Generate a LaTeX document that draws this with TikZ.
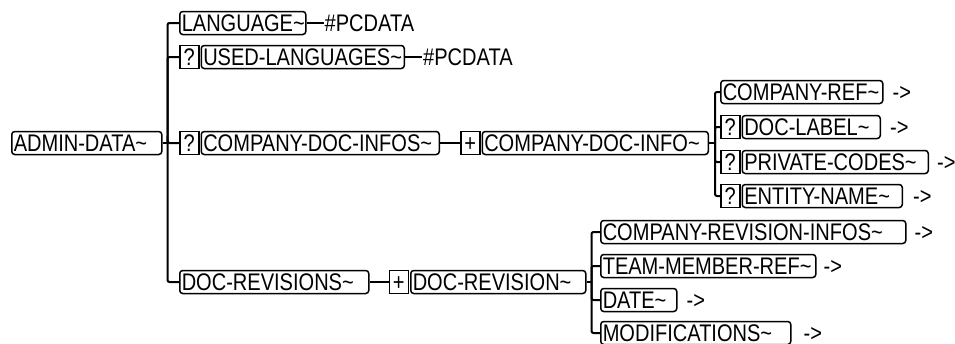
\documentclass[tikz,border=0pt]{standalone}
\usepackage{fontspec}
\setmainfont{Liberation Sans}[FakeStretch=0.835]
\usepackage{tikz}
\usetikzlibrary{positioning}
\exhyphenpenalty=10000
\tikzstyle{every node}=[font=\fontsize{24}{28}\selectfont]
\tikzstyle{elem}=[draw,rounded corners=3pt,line width=1.5pt,inner xsep=2pt,inner ysep=1pt,text height=18.5pt,text depth=2.5pt,align=left]
\tikzstyle{opt}=[draw,line width=1.5pt,inner xsep=0pt,inner ysep=1pt,text height=18.5pt,text depth=2.5pt,minimum width=19pt]
\tikzstyle{leaf}=[inner xsep=1pt,inner ysep=1pt,text height=18.5pt,text depth=2.5pt]
\tikzstyle{branch}=[line width=2pt,rounded corners=2pt]

\begin{document}
\begin{tikzpicture}[x=1pt,y=-1pt]
  \useasboundingbox (0,0) rectangle (955,343);
  % root
  \node(admin)[elem,text width=146pt,anchor=west] at (11,143){ADMIN-DATA\textasciitilde};
  \coordinate(t1) at ([xshift=5pt]admin.east);
  % first level
  \node(lang)[elem,text width=122pt,anchor=west] at (179,23){LANGUAGE\textasciitilde};
  \node(langpc)[leaf,right=17pt of lang]{\#PCDATA};
  \node(usedq)[opt,anchor=west] at (179,57){?};
  \node(used)[elem,text width=199pt,right=1pt of usedq]{USED-LANGUAGES\textasciitilde};
  \node(usedpc)[leaf,right=17pt of used]{\#PCDATA};
  \node(cdisq)[opt,anchor=west] at (179,143){?};
  \node(cdis)[elem,text width=234pt,right=1pt of cdisq]{COMPANY-DOC-INFOS\textasciitilde};
  \node(cdip)[opt,right=20pt of cdis]{+};
  \node(cdi)[elem,text width=222pt,right=1pt of cdip]{COMPANY-DOC-INFO\textasciitilde};
  \node(revs)[elem,text width=185pt,anchor=west] at (179,282){DOC-REVISIONS\textasciitilde};
  \node(revp)[opt,right=19pt of revs]{+};
  \node(rev)[elem,text width=171pt,right=1pt of revp]{DOC-REVISION\textasciitilde};
  \coordinate(t2) at ([xshift=6pt]cdi.east);
  \coordinate(t3) at ([xshift=5pt]rev.east);
  % COMPANY-DOC-INFO content
  \node(cref)[elem,text width=158pt,anchor=west] at (720,92){COMPANY-REF\textasciitilde};
  \node(crefr)[leaf,right=8pt of cref]{->};
  \node(labq)[opt,anchor=west] at (720,127){?};
  \node(lab)[elem,text width=134pt,right=1pt of labq]{DOC-LABEL\textasciitilde};
  \node(labr)[leaf,right=8pt of lab]{->};
  \node(pcq)[opt,anchor=west] at (720,162){?};
  \node(pc)[elem,text width=182pt,right=1pt of pcq]{PRIVATE-CODES\textasciitilde};
  \node(pcr)[leaf,right=7pt of pc]{->};
  \node(entq)[opt,anchor=west] at (720,196){?};
  \node(ent)[elem,text width=156pt,right=1pt of entq]{ENTITY-NAME\textasciitilde};
  \node(entr)[leaf,right=9pt of ent]{->};
  % DOC-REVISION content
  \node(cri)[elem,text width=301pt,anchor=west] at (600,232){COMPANY-REVISION-INFOS\textasciitilde};
  \node(crir)[leaf,right=7pt of cri]{->};
  \node(tm)[elem,text width=211pt,anchor=west] at (600,266){TEAM-MEMBER-REF\textasciitilde};
  \node(tmr)[leaf,right=6pt of tm]{->};
  \node(date)[elem,text width=72pt,anchor=west] at (600,300){DATE\textasciitilde};
  \node(dater)[leaf,right=8pt of date]{->};
  \node(mod)[elem,text width=186pt,anchor=west] at (600,333){MODIFICATIONS\textasciitilde};
  \node(modr)[leaf,right=11pt of mod]{->};
  % connectors
  \draw[branch] (admin.east) -- (t1);
  \draw[branch] (t1) |- (lang.west);
  \draw[branch] (t1) |- (usedq.west);
  \draw[branch] (t1) |- (cdisq.west);
  \draw[branch] (t1) |- (revs.west);
  \draw[branch] (lang) -- (langpc);
  \draw[branch] (used) -- (usedpc);
  \draw[branch] (cdis) -- (cdip);
  \draw[branch] (revs) -- (revp);
  \draw[branch] (cdi.east) -- (t2);
  \draw[branch] (t2) |- (cref.west);
  \draw[branch] (t2) |- (labq.west);
  \draw[branch] (t2) |- (pcq.west);
  \draw[branch] (t2) |- (entq.west);
  \draw[branch] (rev.east) -- (t3);
  \draw[branch] (t3) |- (cri.west);
  \draw[branch] (t3) |- (tm.west);
  \draw[branch] (t3) |- (date.west);
  \draw[branch] (t3) |- (mod.west);
\end{tikzpicture}
\end{document}
